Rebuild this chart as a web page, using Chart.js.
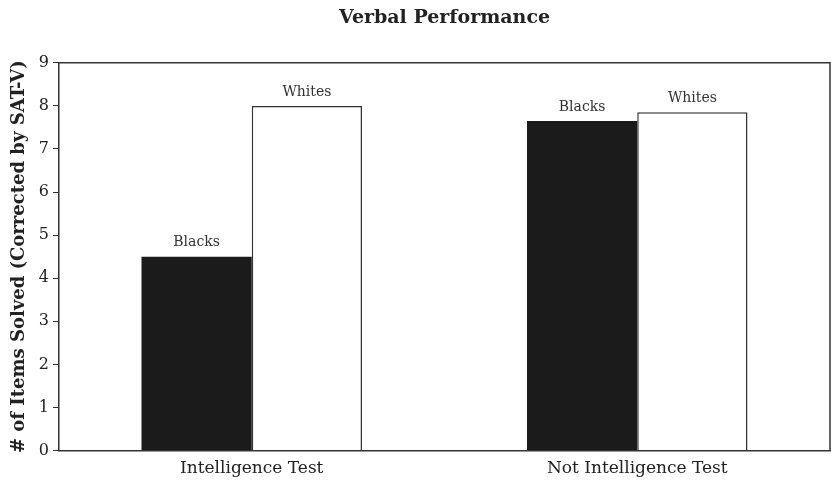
<!DOCTYPE html>
<html lang="en">
<head>
    <meta charset="UTF-8">
    <title>Verbal Performance</title>
    <script src="https://cdn.jsdelivr.net/npm/chart.js"></script>
    <style>
        * { margin: 0; padding: 0; box-sizing: border-box; }
        body { background: #fff; width: 831px; height: 485px; overflow: hidden; }
        #wrap { position: relative; width: 831px; height: 485px; }
    </style>
</head>
<body>
    <div id="wrap"><canvas id="myChart"></canvas></div>
    <script>
        const categories = ['Intelligence Test', 'Not Intelligence Test'];
        const blacks = [4.5, 7.65];
        const whites = [8.0, 7.85];
        const yTicks = [0, 1, 2, 3, 4, 5, 6, 7, 8, 9];

        // draws the top/right frame and the "Blacks"/"Whites" labels above each bar
        const frameAndLabels = {
            id: 'frameAndLabels',
            afterDatasetsDraw(chart) {
                const ctx = chart.ctx;
                const a = chart.chartArea;
                ctx.save();
                ctx.strokeStyle = '#333';
                ctx.lineWidth = 1.5;
                ctx.beginPath();
                ctx.moveTo(a.left, a.top);
                ctx.lineTo(a.right, a.top);
                ctx.lineTo(a.right, a.bottom);
                ctx.stroke();

                ctx.fillStyle = '#333';
                ctx.font = '14px "DejaVu Serif", serif';
                ctx.textAlign = 'center';
                ctx.textBaseline = 'bottom';
                chart.data.datasets.forEach((ds, i) => {
                    chart.getDatasetMeta(i).data.forEach(bar => {
                        ctx.fillText(ds.label, bar.x, bar.y - 7);
                    });
                });
                ctx.restore();
            }
        };

        const ctx = document.getElementById('myChart').getContext('2d');
        new Chart(ctx, {
            type: 'bar',
            data: {
                labels: categories,
                datasets: [
                    {
                        label: 'Blacks',
                        data: blacks,
                        backgroundColor: '#1b1b1b',
                        borderColor: '#1b1b1b',
                        borderWidth: 0
                    },
                    {
                        label: 'Whites',
                        data: whites,
                        backgroundColor: '#ffffff',
                        borderColor: '#333',
                        borderWidth: 1.5
                    }
                ]
            },
            options: {
                responsive: true,
                maintainAspectRatio: false,
                animation: false,
                layout: { padding: { top: 0, right: 1, bottom: -2, left: 0 } },
                datasets: {
                    bar: { categoryPercentage: 0.572, barPercentage: 1.0 }
                },
                scales: {
                    x: {
                        grid: { display: false, drawTicks: false },
                        border: { display: true, color: '#333', width: 1.5 },
                        ticks: {
                            color: '#222',
                            padding: 8,
                            font: { family: '"DejaVu Serif", serif', size: 17 }
                        }
                    },
                    y: {
                        min: 0,
                        max: 9,
                        afterFit(scale) { scale.width = 59; },
                        afterBuildTicks(scale) {
                            scale.ticks = yTicks.map(v => ({ value: v }));
                        },
                        grid: {
                            drawOnChartArea: false,
                            drawTicks: true,
                            tickLength: 6,
                            color: '#333'
                        },
                        border: { display: true, color: '#333', width: 1.5 },
                        ticks: {
                            color: '#222',
                            padding: 4,
                            font: { family: '"DejaVu Serif", serif', size: 16 }
                        },
                        title: {
                            display: true,
                            text: '# of Items Solved (Corrected by SAT-V)',
                            color: '#222',
                            padding: { top: 9, bottom: 2 },
                            font: { family: '"DejaVu Serif", serif', size: 18, weight: 'bold' }
                        }
                    }
                },
                plugins: {
                    legend: { display: false },
                    tooltip: { enabled: false },
                    title: {
                        display: true,
                        fullSize: false,
                        text: 'Verbal Performance',
                        color: '#222',
                        padding: { top: 7, bottom: 33 },
                        font: { family: '"DejaVu Serif", serif', size: 19, weight: 'bold' }
                    }
                }
            },
            plugins: [frameAndLabels]
        });
    </script>
</body>
</html>
